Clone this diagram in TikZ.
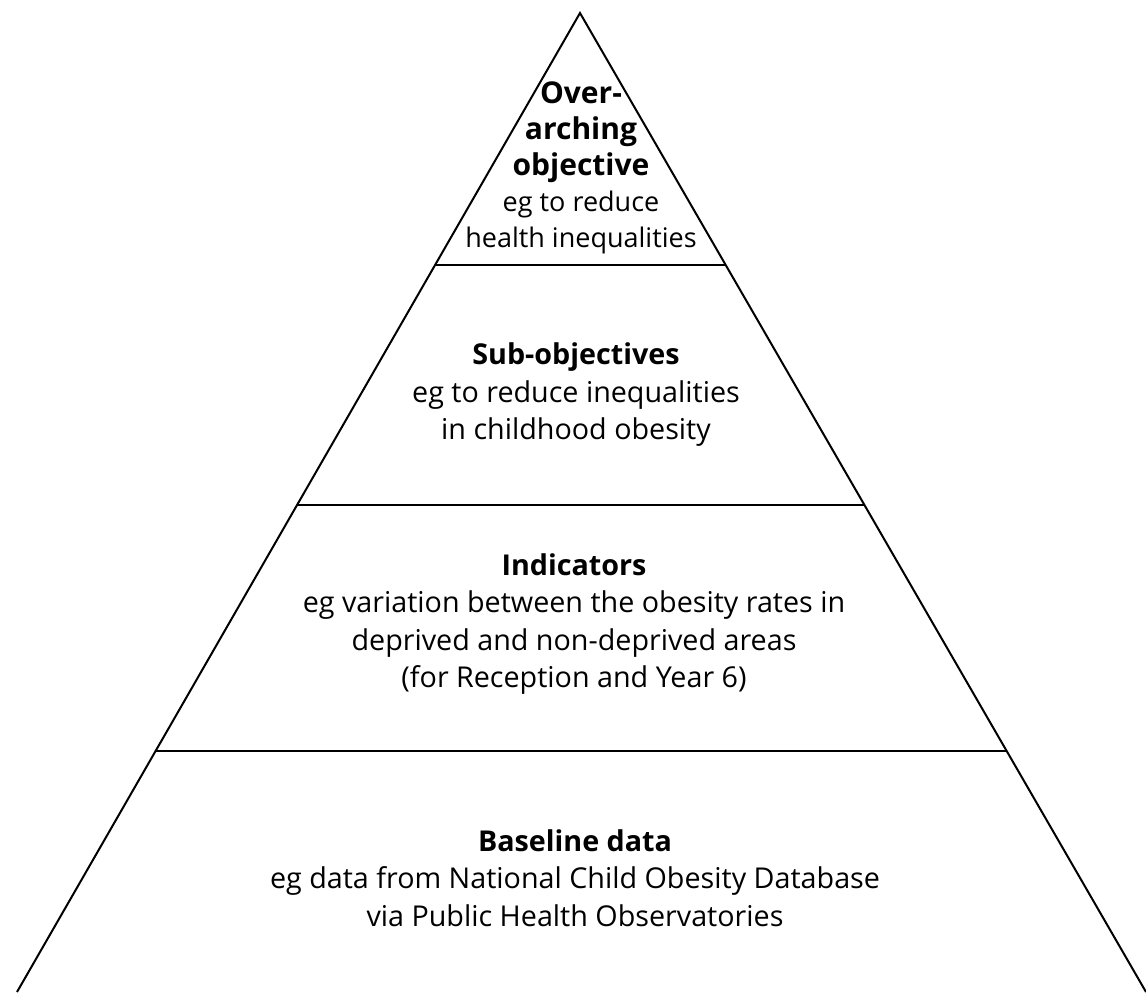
\documentclass[tikz,border=0pt]{standalone}
\usepackage{fontspec}
\setmainfont{Open Sans}
\begin{document}
\begin{tikzpicture}[x=1pt,y=-1pt,
  side/.style={line width=2pt},
  tier/.style={line width=1.5pt},
  lbl/.style={align=center, font=\fontsize{28.7}{37.5}\selectfont, inner sep=0pt},
  toplbl/.style={align=center, font=\fontsize{27}{36}\selectfont, inner sep=0pt}]
\useasboundingbox (0,0) rectangle (1146,994);
\coordinate (apex) at (580,13);
\coordinate (bl) at (17,992);
\coordinate (br) at (1146,992);
\draw[side] (bl) -- (apex) -- (br);
\path (apex) -- (bl) coordinate[pos=0.2574] (l1) coordinate[pos=0.5026] (l2) coordinate[pos=0.7538] (l3);
\path (apex) -- (br) coordinate[pos=0.2574] (r1) coordinate[pos=0.5026] (r2) coordinate[pos=0.7538] (r3);
\draw[tier] (l1) -- (r1);
\draw[tier] (l2) -- (r2);
\draw[tier] (l3) -- (r3);
\node[toplbl] (t1) at (581,168) {{\fontsize{30}{36}\selectfont\textbf{Over-}}\\{\fontsize{30}{36}\selectfont\textbf{arching}}\\{\fontsize{30}{36}\selectfont\textbf{objective}}\\eg to reduce\\health inequalities};
\node[lbl] (t2) at (576,395) {\textbf{Sub-objectives}\\eg to reduce inequalities\\in childhood obesity};
\node[lbl] (t3) at (574,624) {\textbf{Indicators}\\eg variation between the obesity rates in\\deprived and non-deprived areas\\(for Reception and Year 6)};
\node[lbl] (t4) at (575,878) {\textbf{Baseline data}\\eg data from National Child Obesity Database\\via Public Health Observatories};
\end{tikzpicture}
\end{document}
